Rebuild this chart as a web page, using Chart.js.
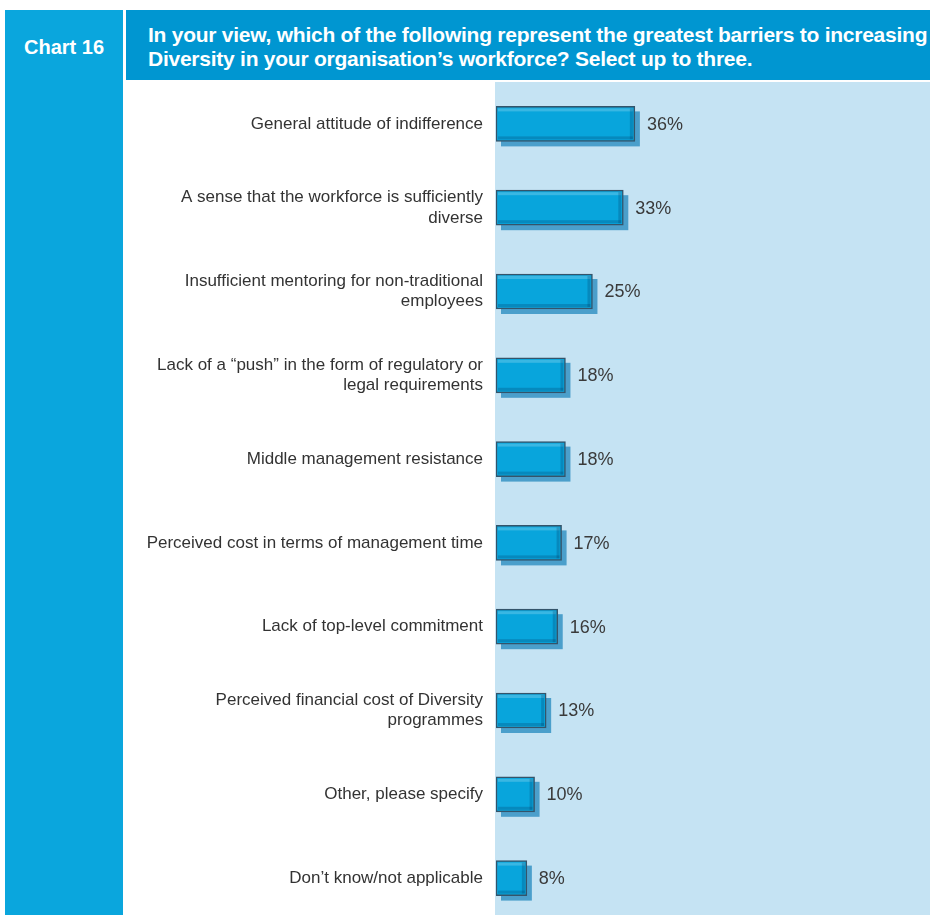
<!DOCTYPE html>
<html>
<head>
<meta charset="utf-8">
<script src="https://cdn.jsdelivr.net/npm/chart.js@4.4.1/dist/chart.umd.min.js"></script>
<style>
  html, body { margin: 0; padding: 0; width: 930px; height: 915px; overflow: hidden; background: #fff; }
  #strip { position: absolute; left: 5px; top: 10px; width: 118px; height: 905px; background: #0aa6dd; }
  #chartNo { position: absolute; left: 5px; top: 36px; width: 118px; text-align: center; color: #fff;
    font: bold 20px "Liberation Sans", Arial, sans-serif; }
  #header { position: absolute; left: 126px; top: 10px; width: 804px; height: 70px; background: #0096d1; }
  #title { position: absolute; left: 148px; top: 23px; color: #fff; line-height: 25px; white-space: nowrap;
    font: bold 21px "Liberation Sans", Arial, sans-serif; letter-spacing: -0.25px; }
  #wrap { position: absolute; left: 126px; top: 82px; width: 804px; height: 838px; }
</style>
</head>
<body>
<div id="strip"></div>
<div id="chartNo">Chart 16</div>
<div id="header"></div>
<div id="title">In your view, which of the following represent the greatest barriers to increasing<br>Diversity in your organisation’s workforce? Select up to three.</div>
<div id="wrap"><canvas id="myChart"></canvas></div>
<script>
let categories = [
  "General attitude of indifference",
  ["A sense that the workforce is sufficiently", "diverse"],
  ["Insufficient mentoring for non-traditional", "employees"],
  ["Lack of a “push” in the form of regulatory or", "legal requirements"],
  "Middle management resistance",
  "Perceived cost in terms of management time",
  "Lack of top-level commitment",
  ["Perceived financial cost of Diversity", "programmes"],
  "Other, please specify",
  "Don’t know/not applicable",
];
let values = [36, 33, 25, 18, 18, 17, 16, 13, 10, 8];
let xMax = 112.5;

// light blue panel behind the bars
const panelBg = {
  id: "panelBg",
  beforeDraw(chart) {
    let a = chart.chartArea;
    let ctx = chart.ctx;
    ctx.save();
    ctx.fillStyle = "#c5e3f3";
    ctx.fillRect(a.left - 1, a.top, a.right - a.left + 1, a.bottom - a.top);
    ctx.restore();
  },
};

// drop shadow of each bar
const barShadow = {
  id: "barShadow",
  beforeDatasetsDraw(chart) {
    let ctx = chart.ctx;
    ctx.save();
    ctx.fillStyle = "#4b9fcb";
    chart.getDatasetMeta(0).data.forEach((bar) => {
      let h = bar.height;
      ctx.fillRect(bar.base + 5, bar.y - h / 2 + 5, bar.x - bar.base, h);
    });
    ctx.restore();
  },
};

// bevel + value labels
const barLabels = {
  id: "barLabels",
  afterDatasetsDraw(chart) {
    let ctx = chart.ctx;
    ctx.save();
    chart.getDatasetMeta(0).data.forEach((bar, i) => {
      let h = bar.height;
      let top = bar.y - h / 2;
      let w = bar.x - bar.base;
      ctx.fillStyle = "rgba(255,255,255,0.2)";
      ctx.fillRect(bar.base + 2, top + 2, w - 4, 3);
      ctx.fillStyle = "rgba(0,40,80,0.22)";
      ctx.fillRect(bar.base + 2, top + h - 5, w - 4, 3);
      ctx.fillRect(bar.x - 5, top + 2, 3, h - 4);
      ctx.fillStyle = "#3a3a3a";
      ctx.font = "18px 'Liberation Sans', Arial, sans-serif";
      ctx.textBaseline = "middle";
      ctx.fillText(values[i] + "%", bar.x + 12, bar.y + 1);
    });
    ctx.restore();
  },
};

new Chart("myChart", {
  type: "bar",
  data: {
    labels: categories,
    datasets: [
      {
        data: values,
        backgroundColor: "#08a5dc",
        borderColor: "#34546a",
        borderWidth: 1.5,
        borderSkipped: false,
        barThickness: 35,
      },
    ],
  },
  options: {
    indexAxis: "y",
    responsive: true,
    maintainAspectRatio: false,
    animation: false,
    layout: { padding: 0 },
    plugins: { legend: { display: false }, tooltip: { enabled: false } },
    scales: {
      x: {
        min: 0,
        max: xMax,
        display: false,
      },
      y: {
        grid: { display: false, drawTicks: false },
        border: { display: false },
        afterFit(scale) {
          scale.width = 370;
          scale.paddingTop = 0;
          scale.paddingBottom = 0;
        },
        ticks: {
          color: "#333",
          padding: 13,
          font: { family: "'Liberation Sans', Arial, sans-serif", size: 17 },
        },
      },
    },
  },
  plugins: [panelBg, barShadow, barLabels],
});
</script>
</body>
</html>
